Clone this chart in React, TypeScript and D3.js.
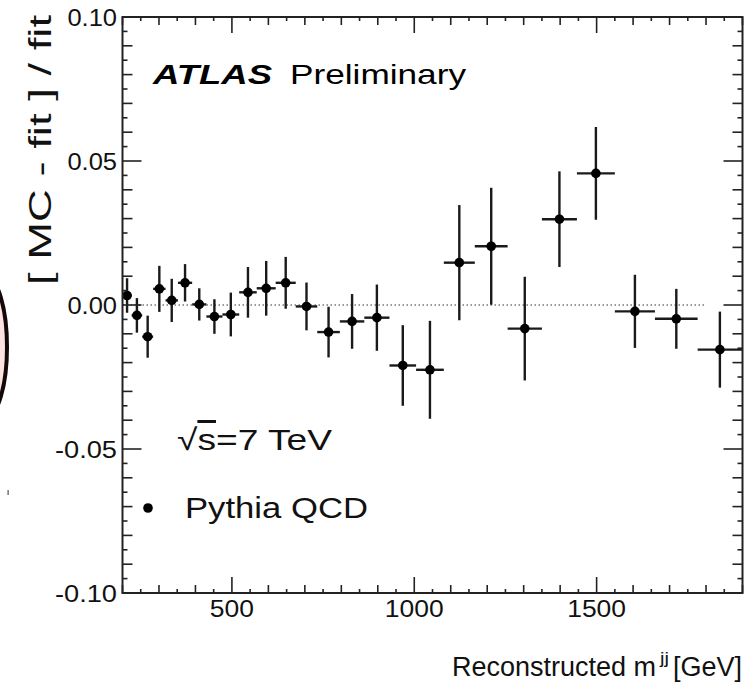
import React from "react";
import * as d3 from "d3";

// Dijet mass bins [GeV] (low edges plus final upper edge)
const binEdges = [
  200, 225, 254, 284, 318, 352, 391, 430, 474, 520, 568, 620, 675, 734, 796,
  863, 932, 1005, 1081, 1166, 1256, 1350, 1446, 1550, 1660, 1777, 1899,
];
// Relative difference ( MC - fit ) / fit per bin
const residuals = [
  0.0033, -0.0036, -0.011, 0.0056, 0.0016, 0.0077, 0.0002, -0.004, -0.0033,
  0.0044, 0.0058, 0.0077, -0.0005, -0.0094, -0.0057, -0.0044, -0.021, -0.0225,
  0.0147, 0.0204, -0.0082, 0.0298, 0.0457, -0.0022, -0.0048, -0.0155,
];
const residualErrors = [
  0.006, 0.006, 0.0073, 0.008, 0.0075, 0.0065, 0.0056, 0.006, 0.0076, 0.0088,
  0.0095, 0.009, 0.0083, 0.0088, 0.0095, 0.0115, 0.014, 0.017, 0.02, 0.0203,
  0.018, 0.0166, 0.0161, 0.0127, 0.0104, 0.0132,
];
const xTickLabels = [500, 1000, 1500];
const yTickLabels = [0.1, 0.05, 0, -0.05, -0.1];
const zeroLineRange = [200, 1800];

const W = 748;
const H = 683;
const FONT = "'Liberation Sans', Arial, Helvetica, sans-serif";

// ROOT-style label text: plain hyphen for negatives
const fmtY = (v: number) => {
  const s = Math.abs(v).toFixed(2);
  return v < -1e-9 ? "-" + s : s;
};

export default function App() {
  const x = d3.scaleLinear().domain([200, 1900]).range([122.5, 742.5]);
  const y = d3.scaleLinear().domain([-0.1, 0.1]).range([593, 17]);
  const [x0, x1] = x.range();
  const [yb, yt] = y.range();

  const points = residuals.map((v, i) => {
    const lo = binEdges[i];
    const hi = binEdges[i + 1];
    return { lo, hi, c: (lo + hi) / 2, v, e: residualErrors[i] };
  });

  // x ticks: every 50 GeV, longer every 100, major every 500
  const xTicks = d3.range(200, 1901, 50).map((m) => {
    const len = m % 500 === 0 ? 16 : m % 100 === 0 ? 8 : 4;
    return { m, len };
  });
  // y ticks: every 0.005, longer every 0.01, major every 0.05
  const yTicks = d3.range(-20, 21, 1).map((k) => {
    const len = k % 10 === 0 ? 19 : k % 2 === 0 ? 10 : 5;
    return { v: k * 0.005, len };
  });

  const fit = { lengthAdjust: "spacingAndGlyphs" } as const;

  return (
    <svg
      width={W}
      height={H}
      style={{ position: "absolute", left: 0, top: 0, background: "#fff" }}
      fontFamily={FONT}
    >
      {/* partial marker ellipse at the left edge */}
      <ellipse cx={-14} cy={347} rx={21} ry={70} fill="#fde2e2" stroke="#140808" strokeWidth={4} />
      <rect x={7.5} y={490} width={1.2} height={5} fill="#555" />

      {/* zero reference line */}
      <line
        x1={x(zeroLineRange[0])}
        x2={x(zeroLineRange[1])}
        y1={y(0)}
        y2={y(0)}
        stroke="#333"
        strokeWidth={1}
        strokeDasharray="1.5,2.5"
      />

      {/* data points with error bars */}
      <g stroke="#1a1a1a" strokeWidth={2.4}>
        {points.map((p, i) => (
          <g key={i}>
            <line x1={x(p.lo)} x2={Math.min(x(p.hi), x1)} y1={y(p.v)} y2={y(p.v)} />
            <line x1={x(p.c)} x2={x(p.c)} y1={y(p.v - p.e)} y2={y(p.v + p.e)} />
          </g>
        ))}
      </g>
      <g fill="#000">
        {points.map((p, i) => (
          <circle key={i} cx={x(p.c)} cy={y(p.v)} r={4.8} />
        ))}
      </g>

      {/* frame */}
      <rect x={x0} y={yt} width={x1 - x0} height={yb - yt} fill="none" stroke="#222" strokeWidth={2} />

      {/* ticks on all four sides */}
      <g stroke="#222" strokeWidth={1.6}>
        {xTicks.map((t) => (
          <g key={t.m}>
            <line x1={x(t.m)} x2={x(t.m)} y1={yb} y2={yb - t.len} />
            <line x1={x(t.m)} x2={x(t.m)} y1={yt} y2={yt + t.len} />
          </g>
        ))}
        {yTicks.map((t) => (
          <g key={t.v}>
            <line x1={x0} x2={x0 + t.len} y1={y(t.v)} y2={y(t.v)} />
            <line x1={x1} x2={x1 - t.len} y1={y(t.v)} y2={y(t.v)} />
          </g>
        ))}
      </g>

      {/* tick labels */}
      <g fontSize={23} fill="#111">
        {yTickLabels.map((v) => {
          const s = fmtY(v);
          return (
            <text key={v} x={117} y={y(v) + 8.5} textAnchor="end" textLength={s.length * 12.4} {...fit}>
              {s}
            </text>
          );
        })}
        {xTickLabels.map((m) => {
          const s = String(m);
          return (
            <text key={m} x={x(m)} y={617} textAnchor="middle" textLength={s.length * 14.7} {...fit}>
              {s}
            </text>
          );
        })}
      </g>

      {/* x axis title: main text, superscript, unit */}
      <g fill="#111">
        <text x={452} y={676} fontSize={27} textLength={204} {...fit}>
          Reconstructed m
        </text>
        <text x={660} y={664} fontSize={17} textLength={9} {...fit}>
          jj
        </text>
        <text x={742} y={676} fontSize={27} textAnchor="end" textLength={69} {...fit}>
          [GeV]
        </text>
      </g>
      <text
        transform="translate(51,15) rotate(-90)"
        textAnchor="end"
        fontSize={32}
        fill="#111"
        textLength={270}
        {...fit}
      >
        [ MC - fit ] / fit
      </text>

      {/* annotations */}
      <text x={153} y={84} fontSize={28} fontWeight="bold" fontStyle="italic" fill="#000" textLength={119} {...fit}>
        ATLAS
      </text>
      <text x={290} y={84} fontSize={28} fill="#000" textLength={176} {...fit}>
        Preliminary
      </text>
      <text x={177} y={450} fontSize={30} fill="#111" textLength={155} {...fit}>
        √<tspan style={{ textDecoration: "overline" }}>s</tspan>=7 TeV
      </text>
      <circle cx={148} cy={508} r={4.8} fill="#000" />
      <text x={185} y={518} fontSize={30} fill="#111" textLength={183} {...fit}>
        Pythia QCD
      </text>
    </svg>
  );
}
